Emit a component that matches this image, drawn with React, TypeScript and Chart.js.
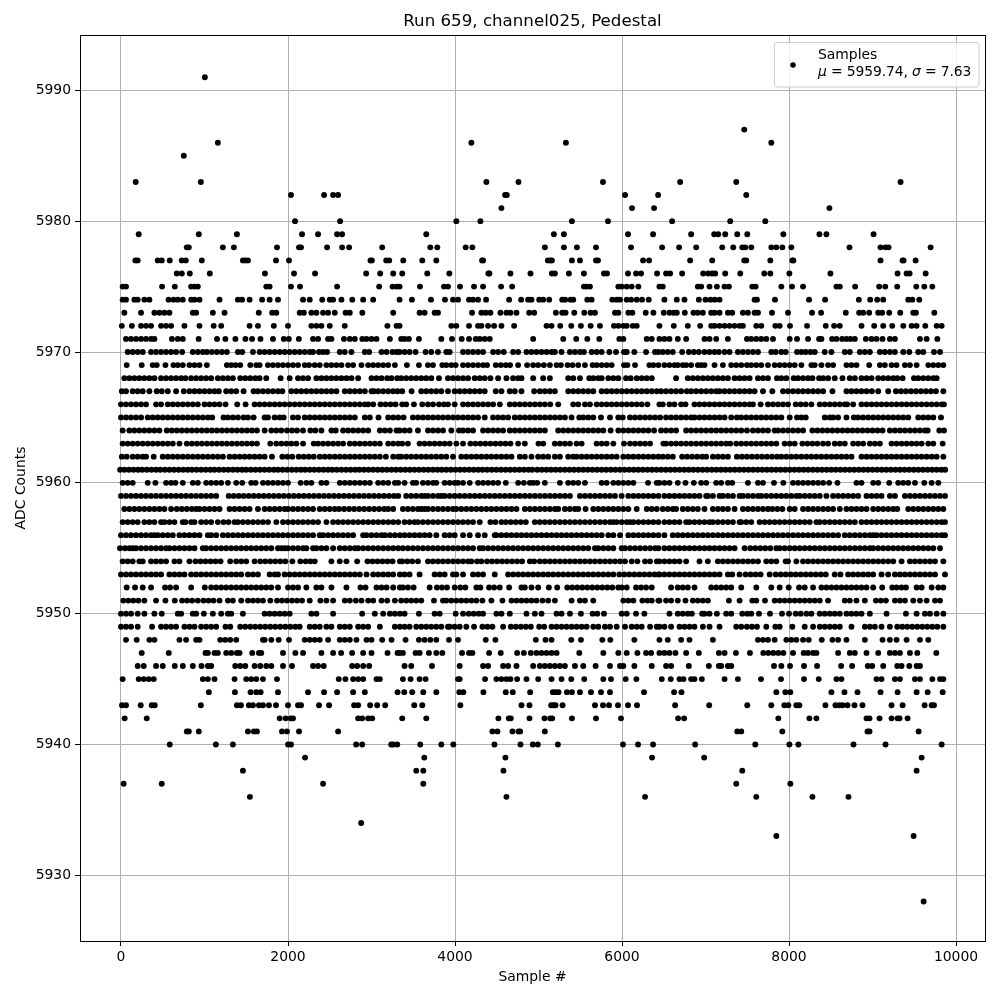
import React, { useEffect, useRef } from "react";
import { Chart, registerables } from "chart.js";

Chart.register(...registerables);

const chartTitle = "Run 659, channel025, Pedestal";
const xTitle = "Sample #";
const yTitle = "ADC Counts";
const legendName = "Samples";
const legendMean = "5959.74";
const legendSigma = "7.63";
const xTickValues = [0, 2000, 4000, 6000, 8000, 10000];
const yTickValues = [5930, 5940, 5950, 5960, 5970, 5980, 5990];

const s5991 = [1004];
const s5987 = [7464];
const s5986 = [1160, 4196, 5328, 7788];
const s5985 = [752];
const s5983 = [176, 956, 4376, 4760, 5772, 6696, 7368, 9336];
const s5982 = [2036, 2432, 2540, 2600, 4600, 4620, 6036, 6432, 7488];
const s5981 = [4556, 6120, 6384, 8484];
const s5980 = [2084, 2624, 4016, 4304, 5400, 5832, 6600, 7296, 7716];
const s5979 = [212, 932, 1388, 2168, 2360, 2588, 2648, 3656, 5184, 5304, 6072, 6372, 6828, 7104, 7152, 7236, 7380, 7500, 7932, 8364, 8448, 9012];
const s5978 = [788, 812, 1220, 1352, 1868, 2132, 2156, 2468, 2648, 2732, 3128, 3704, 3788, 4128, 4208, 5076, 5304, 5460, 5688, 6108, 6480, 6684, 6888, 7200, 7332, 7440, 7476, 7548, 7788, 7848, 7920, 8028, 8724, 9096, 9156, 9192, 9696];
const s5977 = [172, 200, 440, 488, 584, 728, 776, 968, 1460, 1490, 1520, 1856, 2012, 2988, 3004, 3176, 3212, 3380, 3608, 3776, 4324, 4336, 5112, 5140, 5160, 5400, 5496, 5688, 5712, 6252, 6324, 6816, 7080, 7464, 7488, 7776, 8040, 8052, 9096, 9360, 9372, 9516];
const s5976 = [668, 728, 824, 1064, 1724, 2072, 2324, 2936, 3104, 3260, 3368, 3668, 3932, 4400, 4412, 4664, 4904, 5160, 5196, 5364, 5544, 5784, 5820, 6072, 6168, 6228, 6420, 6528, 6576, 6720, 6972, 7032, 7080, 7116, 7236, 7416, 7704, 7776, 8004, 8496, 9300, 9408, 9444, 9636];
const s5975 = [20, 60, 492, 644, 840, 880, 920, 1740, 1780, 2036, 2144, 2588, 3092, 3252, 3300, 3336, 3580, 3868, 3916, 4060, 4228, 4336, 4552, 4684, 5544, 5576, 5616, 5956, 5996, 6056, 6116, 6196, 6448, 6488, 6908, 6948, 7048, 7136, 7228, 7280, 7560, 7600, 7908, 8036, 8168, 8568, 8608, 8792, 9080, 9152, 9296, 9524, 9620, 9716];
const s5974 = [20, 60, 160, 200, 280, 340, 570, 630, 680, 740, 840, 880, 940, 1180, 1400, 1450, 1540, 1690, 1780, 1880, 2180, 2260, 2410, 2500, 2540, 2640, 2770, 2900, 3020, 3336, 3484, 3712, 3880, 3976, 4036, 4168, 4216, 4276, 4372, 4648, 4792, 4876, 4916, 5008, 5056, 5128, 5284, 5320, 5384, 5416, 5584, 5636, 5884, 5936, 5976, 6056, 6108, 6176, 6240, 6320, 6508, 6656, 6748, 6920, 7000, 7060, 7110, 7168, 7588, 7616, 7832, 8240, 8432, 8836, 8972, 9056, 9128, 9428, 9476, 9560];
const s5973 = [40, 240, 400, 460, 520, 580, 860, 900, 1100, 1240, 1650, 1810, 1860, 2140, 2190, 2280, 2340, 2420, 2480, 2560, 2690, 2740, 2890, 3260, 3576, 3636, 3756, 3796, 4204, 4316, 4368, 4424, 4544, 4616, 4664, 4736, 4888, 4948, 5208, 5284, 5324, 5428, 5548, 5624, 5676, 5916, 5956, 6076, 6124, 6284, 6376, 6500, 6568, 6616, 6656, 6752, 6856, 6908, 6968, 7068, 7108, 7168, 7268, 7320, 7448, 7508, 7588, 7628, 7796, 7988, 8276, 8384, 8680, 8840, 8888, 8960, 9068, 9116, 9200, 9332, 9488, 9520, 9740];
const s5972 = [10, 130, 240, 300, 360, 480, 540, 600, 760, 940, 1110, 1200, 1540, 1640, 1830, 2000, 2280, 2340, 2400, 2500, 2680, 3190, 3300, 3336, 3956, 4016, 4168, 4276, 4316, 4396, 4468, 4556, 4708, 5096, 5156, 5260, 5392, 5508, 5624, 5736, 5904, 5956, 6016, 6056, 6128, 6176, 6448, 6620, 6788, 6936, 7068, 7108, 7168, 7228, 7288, 7348, 7408, 7448, 7608, 7668, 7836, 7888, 8012, 8216, 8440, 8540, 8608, 8868, 9020, 9128, 9236, 9368, 9468, 9528, 9632, 9768, 9828];
const s5971 = [60, 120, 180, 240, 300, 360, 400, 610, 680, 740, 930, 1150, 1250, 1370, 1490, 1570, 1670, 1820, 1950, 2010, 2130, 2300, 2360, 2480, 2520, 2670, 2740, 2800, 2890, 2940, 3000, 3060, 3220, 3356, 3396, 3448, 3568, 3836, 3964, 4080, 4168, 4248, 4296, 4356, 4416, 4936, 5296, 5452, 5584, 5728, 5968, 6016, 6296, 6356, 6448, 6508, 6568, 6668, 6768, 6988, 7048, 7128, 7268, 7496, 7548, 7608, 7668, 7728, 7808, 8008, 8096, 8228, 8360, 8388, 8516, 8568, 8636, 8688, 8736, 8788, 8920, 8988, 9048, 9120, 9208, 9268, 9568, 9648, 9776];
const s5970 = [80, 140, 200, 260, 360, 420, 480, 540, 600, 660, 732, 860, 920, 980, 1028, 1088, 1148, 1208, 1268, 1400, 1452, 1580, 1660, 1720, 1780, 1840, 1900, 1960, 2020, 2080, 2140, 2200, 2260, 2300, 2372, 2420, 2468, 2620, 2680, 2760, 2920, 2972, 3120, 3180, 3252, 3300, 3336, 3396, 3456, 3528, 3648, 3716, 3796, 3896, 3936, 4096, 4156, 4216, 4276, 4336, 4456, 4516, 4584, 4696, 4756, 4856, 4916, 4976, 5036, 5096, 5156, 5196, 5276, 5376, 5436, 5496, 5544, 5636, 5696, 5756, 5848, 5928, 6024, 6056, 6148, 6288, 6396, 6436, 6488, 6548, 6608, 6720, 6800, 6860, 6920, 6988, 7048, 7108, 7160, 7228, 7288, 7388, 7448, 7508, 7568, 7628, 7788, 7840, 7908, 7960, 8096, 8148, 8200, 8256, 8308, 8428, 8508, 8668, 8728, 8848, 8908, 8968, 9088, 9148, 9208, 9268, 9368, 9440, 9548, 9608, 9736, 9808];
const s5969 = [68, 248, 380, 428, 532, 628, 680, 740, 820, 880, 940, 1028, 1268, 1320, 1372, 1428, 1548, 1620, 1660, 1760, 1820, 1880, 1940, 2000, 2060, 2120, 2200, 2252, 2320, 2380, 2460, 2520, 2580, 2640, 2720, 2780, 2880, 2960, 3020, 3080, 3140, 3200, 3280, 3424, 3568, 3676, 3736, 3848, 3896, 3956, 4008, 4096, 4156, 4216, 4276, 4336, 4384, 4488, 4548, 4608, 4660, 4756, 4864, 4936, 4996, 5064, 5136, 5216, 5268, 5348, 5408, 5476, 5556, 5648, 5696, 5756, 5816, 5876, 6024, 6064, 6156, 6328, 6376, 6436, 6508, 6568, 6628, 6668, 6728, 6768, 6828, 6908, 6948, 6988, 7108, 7208, 7308, 7368, 7428, 7496, 7548, 7608, 7668, 7748, 7828, 7888, 7948, 8008, 8068, 8148, 8268, 8308, 8388, 8468, 8528, 8688, 8748, 8808, 8960, 9088, 9148, 9228, 9288, 9388, 9448, 9528, 9668, 9728, 9788, 9848];
const s5968 = [40, 100, 160, 220, 280, 340, 400, 480, 540, 600, 660, 720, 772, 840, 900, 960, 1020, 1080, 1160, 1220, 1280, 1340, 1428, 1488, 1548, 1608, 1660, 1740, 1912, 2020, 2120, 2180, 2240, 2340, 2400, 2460, 2520, 2580, 2640, 2700, 2760, 2840, 3000, 3060, 3120, 3188, 3240, 3308, 3356, 3416, 3476, 3536, 3596, 3656, 3716, 3808, 3916, 3976, 4036, 4096, 4156, 4236, 4296, 4356, 4424, 4516, 4616, 4696, 4756, 4796, 4936, 5056, 5136, 5356, 5416, 5496, 5608, 5656, 5716, 5756, 5836, 5896, 5956, 6048, 6104, 6176, 6236, 6296, 6356, 6648, 6788, 6848, 6908, 6968, 7028, 7088, 7148, 7208, 7268, 7348, 7408, 7468, 7528, 7628, 7688, 7748, 7856, 7908, 7968, 8056, 8108, 8168, 8228, 8280, 8360, 8408, 8468, 8548, 8640, 8728, 8788, 8868, 8928, 8988, 9068, 9128, 9188, 9248, 9296, 9360, 9496, 9548, 9608, 9668, 9728, 9768];
const s5967 = [10, 60, 140, 200, 260, 340, 428, 488, 560, 660, 752, 820, 880, 940, 1000, 1060, 1120, 1172, 1260, 1320, 1380, 1468, 1588, 1640, 1700, 1760, 1820, 1880, 1932, 2040, 2100, 2160, 2220, 2280, 2340, 2400, 2460, 2520, 2580, 2680, 2740, 2800, 2860, 2920, 3000, 3028, 3080, 3140, 3200, 3260, 3312, 3368, 3480, 3596, 3656, 3716, 3776, 3836, 3916, 3996, 4056, 4116, 4176, 4236, 4296, 4356, 4488, 4556, 4656, 4716, 4796, 4948, 5016, 5076, 5136, 5196, 5356, 5416, 5476, 5536, 5596, 5656, 5756, 5816, 5876, 5936, 5996, 6056, 6116, 6176, 6236, 6296, 6356, 6416, 6468, 6528, 6588, 6648, 6708, 6776, 6828, 6888, 6948, 7008, 7068, 7128, 7168, 7228, 7288, 7348, 7408, 7468, 7528, 7588, 7688, 7800, 7928, 7988, 8048, 8108, 8168, 8228, 8288, 8348, 8408, 8520, 8688, 8748, 8808, 8868, 8928, 8992, 9068, 9188, 9280, 9340, 9400, 9460, 9520, 9580, 9640, 9700, 9760, 9848];
const s5966 = [0, 60, 120, 180, 240, 300, 420, 480, 560, 620, 680, 740, 800, 860, 920, 1000, 1060, 1120, 1180, 1252, 1392, 1492, 1600, 1660, 1720, 1780, 1840, 1900, 1960, 2020, 2080, 2140, 2200, 2260, 2320, 2380, 2440, 2500, 2560, 2620, 2680, 2740, 2800, 2860, 2920, 2960, 3020, 3108, 3168, 3228, 3288, 3368, 3416, 3508, 3608, 3676, 3736, 3808, 3868, 3916, 3996, 4096, 4156, 4216, 4276, 4336, 4396, 4456, 4536, 4656, 4716, 4776, 4836, 4896, 4956, 5016, 5076, 5140, 5236, 5416, 5476, 5556, 5616, 5696, 5756, 5816, 5876, 5936, 5996, 6056, 6116, 6176, 6236, 6304, 6448, 6488, 6568, 6628, 6708, 6760, 6868, 6928, 6988, 7048, 7108, 7168, 7228, 7288, 7348, 7408, 7468, 7528, 7568, 7660, 7748, 7808, 7868, 7928, 7988, 8080, 8140, 8200, 8268, 8368, 8428, 8488, 8548, 8608, 8668, 8696, 8768, 8868, 8928, 8988, 9048, 9108, 9168, 9228, 9288, 9348, 9408, 9468, 9528, 9588, 9648, 9708, 9768, 9828, 9856];
const s5965 = [0, 60, 120, 180, 240, 320, 380, 440, 500, 560, 620, 680, 740, 800, 860, 920, 980, 1040, 1092, 1228, 1280, 1340, 1400, 1468, 1520, 1588, 1720, 1760, 1840, 1900, 1948, 2060, 2120, 2200, 2260, 2320, 2380, 2440, 2500, 2560, 2620, 2680, 2740, 2800, 2920, 2980, 3084, 3200, 3260, 3320, 3384, 3496, 3556, 3616, 3676, 3736, 3796, 3856, 3916, 3976, 4036, 4096, 4156, 4216, 4276, 4356, 4456, 4516, 4576, 4636, 4716, 4776, 4836, 4896, 4956, 5016, 5076, 5136, 5196, 5256, 5316, 5396, 5488, 5536, 5596, 5656, 5748, 5856, 5956, 6008, 6096, 6156, 6216, 6276, 6336, 6396, 6456, 6528, 6588, 6648, 6708, 6768, 6828, 6868, 6928, 6988, 7048, 7108, 7168, 7228, 7308, 7376, 7428, 7488, 7548, 7608, 7668, 7728, 7788, 7848, 7908, 8008, 8096, 8148, 8200, 8428, 8488, 8528, 8588, 8688, 8776, 8828, 8888, 8948, 9008, 9068, 9128, 9188, 9248, 9308, 9368, 9428, 9548, 9608, 9668, 9728, 9820];
const s5964 = [20, 100, 160, 220, 280, 340, 400, 460, 548, 608, 668, 728, 788, 848, 908, 968, 1028, 1088, 1148, 1208, 1268, 1328, 1388, 1448, 1508, 1568, 1628, 1720, 1800, 1860, 1920, 1988, 2048, 2108, 2180, 2268, 2328, 2400, 2520, 2572, 2660, 2720, 2780, 2840, 2900, 2960, 3100, 3160, 3220, 3300, 3336, 3396, 3456, 3556, 3676, 3736, 3796, 3856, 3956, 4048, 4096, 4156, 4216, 4336, 4396, 4456, 4516, 4576, 4656, 4716, 4776, 4836, 4896, 4956, 5016, 5076, 5236, 5296, 5356, 5416, 5476, 5536, 5596, 5656, 5716, 5776, 5864, 5956, 6016, 6076, 6136, 6196, 6256, 6316, 6384, 6468, 6528, 6588, 6648, 6768, 6828, 6888, 6948, 7008, 7068, 7128, 7188, 7248, 7308, 7368, 7428, 7496, 7568, 7628, 7688, 7748, 7828, 7868, 7928, 7988, 8048, 8108, 8168, 8280, 8340, 8400, 8460, 8520, 8580, 8640, 8700, 8760, 8820, 8880, 8940, 9000, 9060, 9120, 9208, 9268, 9328, 9388, 9448, 9508, 9568, 9628, 9660, 9800, 9856];
const s5963 = [20, 80, 140, 200, 260, 320, 380, 440, 500, 560, 620, 700, 788, 848, 908, 968, 1028, 1088, 1148, 1208, 1268, 1328, 1388, 1448, 1508, 1568, 1628, 1788, 1860, 1920, 1980, 2040, 2100, 2180, 2308, 2360, 2420, 2480, 2540, 2600, 2660, 2740, 2800, 2860, 2920, 2980, 3040, 3100, 3200, 3260, 3320, 3368, 3436, 3576, 3636, 3696, 3756, 3816, 3876, 3936, 4016, 4096, 4184, 4244, 4304, 4364, 4424, 4484, 4544, 4604, 4664, 4756, 4836, 5000, 5056, 5196, 5256, 5316, 5376, 5456, 5516, 5696, 5756, 5816, 5896, 6024, 6096, 6156, 6216, 6276, 6336, 6496, 6528, 6588, 6648, 6708, 6768, 6828, 6888, 6948, 7008, 7068, 7128, 7188, 7248, 7296, 7368, 7428, 7488, 7548, 7608, 7668, 7728, 7788, 7848, 7948, 8008, 8068, 8160, 8220, 8280, 8340, 8408, 8468, 8548, 8608, 8668, 8768, 8828, 8888, 8968, 9028, 9088, 9228, 9288, 9348, 9408, 9468, 9528, 9588, 9668, 9728, 9840];
const s5962 = [10, 68, 140, 200, 260, 300, 392, 500, 560, 620, 680, 740, 800, 860, 920, 980, 1040, 1100, 1160, 1220, 1300, 1360, 1420, 1480, 1540, 1600, 1660, 1720, 1808, 1932, 1992, 2052, 2128, 2188, 2248, 2308, 2380, 2440, 2500, 2560, 2620, 2680, 2740, 2800, 2860, 2920, 2980, 3040, 3100, 3172, 3260, 3320, 3356, 3416, 3476, 3536, 3596, 3656, 3716, 3776, 3836, 3896, 3976, 4076, 4136, 4196, 4256, 4316, 4376, 4436, 4496, 4556, 4616, 4676, 4776, 4836, 4916, 4996, 5056, 5116, 5196, 5256, 5356, 5416, 5456, 5516, 5576, 5636, 5696, 5756, 5816, 5876, 5936, 6016, 6076, 6136, 6196, 6256, 6316, 6376, 6436, 6488, 6548, 6608, 6720, 6780, 6840, 6900, 6960, 7008, 7088, 7148, 7208, 7268, 7376, 7436, 7496, 7556, 7616, 7676, 7736, 7796, 7856, 7908, 7968, 8028, 8088, 8148, 8208, 8268, 8328, 8388, 8448, 8508, 8568, 8628, 8688, 8748, 8868, 8928, 8988, 9048, 9108, 9168, 9228, 9288, 9348, 9408, 9468, 9528, 9588, 9648, 9708, 9768, 9848];
const s5961 = [-10, 40, 95, 150, 205, 255, 310, 365, 420, 470, 525, 580, 635, 690, 745, 800, 850, 905, 960, 1015, 1070, 1120, 1175, 1230, 1285, 1340, 1395, 1450, 1500, 1555, 1610, 1665, 1720, 1775, 1830, 1880, 1935, 1990, 2045, 2100, 2155, 2205, 2260, 2315, 2370, 2425, 2480, 2530, 2585, 2640, 2695, 2750, 2805, 2855, 2910, 2965, 3020, 3075, 3130, 3185, 3240, 3295, 3350, 3405, 3460, 3515, 3570, 3625, 3680, 3735, 3790, 3840, 3895, 3950, 4005, 4060, 4115, 4170, 4225, 4280, 4330, 4385, 4440, 4495, 4550, 4605, 4660, 4715, 4770, 4825, 4880, 4925, 4985, 5040, 5095, 5150, 5205, 5260, 5315, 5370, 5425, 5480, 5535, 5590, 5645, 5700, 5755, 5810, 5865, 5920, 5975, 6030, 6085, 6140, 6195, 6250, 6305, 6360, 6415, 6470, 6525, 6580, 6635, 6690, 6745, 6800, 6855, 6910, 6965, 7020, 7075, 7130, 7185, 7240, 7295, 7350, 7405, 7460, 7515, 7570, 7625, 7680, 7735, 7790, 7845, 7900, 7955, 8010, 8065, 8120, 8175, 8230, 8285, 8340, 8395, 8450, 8505, 8560, 8615, 8670, 8725, 8780, 8835, 8890, 8945, 9000, 9055, 9110, 9165, 9220, 9275, 9330, 9385, 9440, 9495, 9550, 9605, 9660, 9715, 9770, 9825, 9870];
const s5960 = [20, 80, 140, 320, 412, 540, 600, 652, 740, 860, 920, 1020, 1080, 1140, 1200, 1280, 1380, 1452, 1560, 1612, 1700, 1760, 1820, 1880, 1940, 2000, 2152, 2220, 2280, 2400, 2460, 2620, 2680, 2740, 2800, 2860, 2920, 2980, 3080, 3140, 3200, 3280, 3320, 3396, 3496, 3536, 3616, 3676, 3736, 3776, 3876, 3936, 3996, 4036, 4096, 4176, 4276, 4336, 4396, 4456, 4516, 4608, 4756, 4824, 4896, 4936, 4984, 5076, 5256, 5356, 5416, 5476, 5556, 5756, 5816, 5896, 5956, 6016, 6076, 6136, 6312, 6416, 6448, 6508, 6568, 6668, 6760, 6860, 6948, 7008, 7128, 7188, 7268, 7320, 7508, 7628, 7688, 7820, 7932, 8048, 8108, 8168, 8228, 8288, 8348, 8408, 8480, 8580, 8808, 8868, 9008, 9068, 9200, 9308, 9368, 9428, 9508, 9620, 9708, 9788];
const s5959 = [0, 60, 120, 180, 240, 300, 360, 420, 480, 540, 600, 660, 720, 780, 840, 900, 960, 1020, 1080, 1140, 1290, 1350, 1410, 1470, 1530, 1590, 1650, 1710, 1770, 1830, 1890, 1950, 2010, 2070, 2130, 2190, 2250, 2310, 2370, 2430, 2490, 2550, 2610, 2670, 2730, 2790, 2850, 2910, 2970, 3030, 3090, 3150, 3210, 3270, 3320, 3416, 3476, 3536, 3596, 3636, 3676, 3736, 3796, 3836, 3876, 3936, 3996, 4056, 4116, 4176, 4236, 4296, 4356, 4416, 4476, 4536, 4596, 4656, 4716, 4776, 4836, 4896, 4956, 5016, 5076, 5136, 5196, 5256, 5316, 5376, 5496, 5556, 5616, 5676, 5736, 5796, 5856, 5916, 5996, 6076, 6136, 6196, 6256, 6316, 6376, 6436, 6508, 6568, 6628, 6688, 6748, 6808, 6868, 6928, 7008, 7028, 7088, 7168, 7208, 7268, 7328, 7408, 7448, 7508, 7568, 7628, 7668, 7728, 7788, 7848, 7908, 7968, 8028, 8088, 8128, 8188, 8248, 8308, 8368, 8448, 8528, 8588, 8648, 8708, 8768, 8828, 8928, 8988, 9048, 9108, 9208, 9268, 9388, 9448, 9508, 9568, 9628, 9688, 9748, 9808, 9868];
const s5958 = [40, 100, 160, 220, 280, 340, 400, 460, 520, 600, 668, 728, 788, 848, 900, 940, 1000, 1060, 1120, 1180, 1300, 1360, 1420, 1480, 1540, 1640, 1720, 1780, 1840, 1900, 1960, 2000, 2060, 2120, 2180, 2240, 2300, 2380, 2440, 2500, 2560, 2612, 2672, 2732, 2792, 2852, 2912, 2972, 3032, 3092, 3152, 3200, 3260, 3376, 3436, 3496, 3556, 3596, 3636, 3676, 3736, 3796, 3856, 3916, 3976, 4016, 4076, 4136, 4196, 4256, 4316, 4376, 4436, 4496, 4556, 4616, 4676, 4736, 4836, 4896, 4956, 5016, 5076, 5136, 5196, 5236, 5316, 5376, 5436, 5476, 5564, 5656, 5716, 5776, 5836, 5896, 5956, 6016, 6076, 6176, 6296, 6356, 6416, 6488, 6548, 6608, 6648, 6728, 6788, 6848, 6908, 6988, 7088, 7148, 7208, 7268, 7348, 7448, 7508, 7568, 7628, 7688, 7748, 7800, 7860, 7920, 8008, 8068, 8168, 8228, 8288, 8348, 8408, 8468, 8528, 8608, 8688, 8748, 8808, 8868, 8928, 9008, 9068, 9128, 9188, 9248, 9296, 9428, 9488, 9548, 9608, 9668, 9728, 9788, 9848];
const s5957 = [20, 80, 140, 200, 280, 340, 400, 480, 520, 580, 640, 740, 772, 840, 880, 960, 1020, 1080, 1160, 1228, 1288, 1360, 1400, 1460, 1520, 1580, 1640, 1700, 1760, 1860, 1940, 2000, 2060, 2120, 2180, 2240, 2300, 2360, 2460, 2540, 2600, 2660, 2720, 2780, 2840, 2900, 2960, 3020, 3080, 3140, 3200, 3260, 3320, 3396, 3456, 3516, 3556, 3616, 3676, 3736, 3796, 3856, 3916, 3976, 4036, 4096, 4156, 4216, 4296, 4424, 4484, 4556, 4608, 4668, 4728, 4788, 4848, 4956, 5016, 5076, 5136, 5196, 5256, 5316, 5376, 5436, 5496, 5556, 5616, 5676, 5736, 5796, 5856, 5896, 5936, 5996, 6056, 6096, 6136, 6196, 6256, 6316, 6376, 6436, 6508, 6568, 6628, 6688, 6768, 6808, 6868, 6928, 6988, 7048, 7088, 7148, 7208, 7268, 7328, 7408, 7428, 7488, 7548, 7648, 7708, 7768, 7828, 7888, 7948, 8008, 8068, 8128, 8188, 8248, 8328, 8368, 8428, 8488, 8548, 8608, 8668, 8728, 8788, 8868, 8928, 8988, 9048, 9108, 9168, 9228, 9288, 9348, 9408, 9468, 9528, 9588, 9648, 9708, 9768, 9828, 9868];
const s5956 = [0, 60, 120, 180, 240, 300, 360, 400, 440, 500, 560, 620, 700, 760, 820, 880, 940, 1040, 1080, 1140, 1220, 1280, 1340, 1400, 1460, 1520, 1580, 1640, 1700, 1760, 1820, 1880, 1940, 2000, 2060, 2120, 2180, 2240, 2300, 2380, 2420, 2480, 2540, 2600, 2660, 2720, 2780, 2900, 2940, 3000, 3060, 3120, 3160, 3220, 3280, 3340, 3396, 3456, 3516, 3576, 3636, 3696, 3776, 3876, 3936, 3996, 4096, 4176, 4276, 4356, 4476, 4496, 4556, 4616, 4676, 4736, 4796, 4856, 4916, 4976, 5036, 5096, 5156, 5216, 5276, 5336, 5396, 5456, 5516, 5576, 5636, 5696, 5756, 5836, 5896, 5976, 6076, 6136, 6196, 6256, 6316, 6376, 6436, 6508, 6608, 6668, 6728, 6788, 6848, 6908, 6968, 7028, 7088, 7148, 7208, 7268, 7328, 7388, 7448, 7508, 7568, 7628, 7688, 7748, 7808, 7868, 7928, 7988, 8048, 8108, 8168, 8228, 8288, 8348, 8408, 8468, 8528, 8588, 8668, 8728, 8788, 8848, 8908, 8968, 9008, 9048, 9108, 9168, 9228, 9288, 9348, 9408, 9468, 9528, 9588, 9648, 9708, 9768, 9828, 9868];
const s5955 = [-12, 48, 100, 140, 180, 240, 300, 360, 420, 480, 540, 580, 640, 700, 760, 820, 880, 980, 1020, 1080, 1140, 1200, 1260, 1320, 1380, 1440, 1500, 1560, 1620, 1680, 1740, 1800, 1880, 1920, 1960, 2000, 2060, 2120, 2180, 2220, 2300, 2340, 2400, 2460, 2540, 2620, 2680, 2740, 2800, 2840, 2900, 2960, 3020, 3080, 3140, 3200, 3260, 3320, 3376, 3436, 3496, 3556, 3616, 3676, 3736, 3796, 3856, 3916, 3976, 4036, 4096, 4156, 4216, 4296, 4336, 4396, 4456, 4516, 4576, 4636, 4696, 4756, 4816, 4876, 4936, 4996, 5056, 5116, 5176, 5236, 5296, 5356, 5416, 5476, 5536, 5596, 5676, 5716, 5776, 5836, 5896, 5996, 6036, 6096, 6156, 6216, 6276, 6336, 6396, 6436, 6508, 6568, 6628, 6688, 6748, 6808, 6868, 6928, 6988, 7048, 7108, 7168, 7228, 7288, 7348, 7468, 7536, 7596, 7656, 7716, 7776, 7848, 7888, 7948, 8008, 8068, 8128, 8188, 8248, 8308, 8368, 8428, 8488, 8548, 8608, 8668, 8728, 8788, 8848, 8908, 8968, 9008, 9068, 9128, 9188, 9248, 9308, 9368, 9428, 9488, 9548, 9608, 9668, 9728, 9808];
const s5954 = [20, 80, 140, 220, 260, 360, 420, 480, 540, 640, 700, 820, 892, 952, 1012, 1072, 1132, 1192, 1308, 1380, 1440, 1500, 1600, 1668, 1728, 1788, 1848, 1908, 1968, 2052, 2148, 2212, 2268, 2320, 2520, 2620, 2700, 2828, 2952, 3012, 3072, 3132, 3192, 3252, 3340, 3368, 3428, 3488, 3556, 3676, 3736, 3796, 3856, 3916, 3976, 4036, 4096, 4156, 4196, 4264, 4316, 4384, 4444, 4504, 4564, 4624, 4684, 4744, 4804, 4896, 4948, 5016, 5076, 5136, 5196, 5256, 5316, 5376, 5436, 5496, 5556, 5616, 5676, 5736, 5796, 5856, 5916, 5976, 6036, 6116, 6184, 6276, 6336, 6416, 6448, 6508, 6568, 6628, 6688, 6768, 6928, 7028, 7148, 7208, 7268, 7328, 7388, 7448, 7508, 7568, 7628, 7728, 7788, 7848, 7960, 7988, 8088, 8168, 8228, 8288, 8348, 8408, 8468, 8528, 8588, 8648, 8708, 8768, 8828, 8888, 8948, 9008, 9068, 9128, 9188, 9248, 9348, 9448, 9508, 9568, 9628, 9688, 9748, 9848];
const s5953 = [0, 60, 120, 180, 240, 300, 360, 420, 480, 580, 640, 700, 760, 840, 900, 960, 1020, 1080, 1140, 1200, 1260, 1320, 1380, 1440, 1520, 1580, 1640, 1780, 1840, 1880, 1960, 2020, 2080, 2140, 2200, 2260, 2320, 2380, 2440, 2500, 2560, 2620, 2680, 2740, 2800, 2860, 2940, 3020, 3080, 3140, 3200, 3260, 3340, 3396, 3456, 3576, 3756, 3816, 3876, 3976, 4016, 4096, 4216, 4276, 4336, 4476, 4636, 4696, 4756, 4816, 4876, 4936, 4996, 5056, 5116, 5176, 5236, 5296, 5356, 5416, 5476, 5536, 5596, 5656, 5716, 5776, 5836, 5896, 5968, 6028, 6088, 6148, 6208, 6268, 6328, 6388, 6436, 6448, 6508, 6568, 6628, 6688, 6748, 6808, 6868, 6928, 6988, 7048, 7108, 7168, 7268, 7320, 7408, 7480, 7540, 7600, 7660, 7768, 7840, 7900, 7960, 8020, 8080, 8140, 8200, 8260, 8320, 8380, 8440, 8548, 8616, 8708, 8768, 8828, 8888, 8948, 9008, 9108, 9188, 9268, 9328, 9388, 9448, 9508, 9568, 9628, 9688, 9748, 9868];
const s5952 = [68, 168, 260, 360, 528, 588, 660, 840, 1004, 1080, 1140, 1200, 1260, 1320, 1380, 1440, 1500, 1560, 1620, 1680, 1740, 1800, 1880, 2000, 2060, 2120, 2220, 2340, 2400, 2520, 2700, 2868, 2928, 3060, 3120, 3180, 3260, 3340, 3376, 3436, 3504, 3696, 3784, 3844, 3904, 3996, 4064, 4124, 4256, 4304, 4408, 4468, 4536, 4648, 4796, 4836, 4916, 4996, 5124, 5224, 5344, 5404, 5464, 5524, 5584, 5644, 5704, 5764, 5824, 5884, 5956, 5996, 6056, 6168, 6228, 6288, 6356, 6588, 6668, 6728, 6788, 6868, 7068, 7128, 7188, 7248, 7308, 7428, 7608, 7788, 7888, 7996, 8120, 8188, 8288, 8388, 8448, 8508, 8568, 8628, 8688, 8748, 8808, 8868, 8928, 9008, 9116, 9236, 9288, 9348, 9400, 9528, 9588, 9708, 9788, 9848];
const s5951 = [28, 88, 148, 208, 280, 420, 532, 644, 732, 792, 852, 920, 988, 1048, 1108, 1180, 1280, 1340, 1440, 1520, 1580, 1640, 1700, 1788, 1868, 1928, 1988, 2048, 2108, 2168, 2260, 2388, 2460, 2540, 2680, 2740, 2812, 2880, 2960, 3020, 3120, 3188, 3280, 3356, 3416, 3476, 3536, 3596, 3748, 3856, 3896, 3956, 4016, 4076, 4136, 4196, 4256, 4328, 4436, 4568, 4676, 4736, 4796, 4856, 4916, 4976, 5048, 5116, 5196, 5396, 5496, 5556, 5656, 6016, 6076, 6136, 6244, 6304, 6356, 6436, 6448, 6528, 6588, 6668, 6760, 6848, 6908, 6968, 7028, 7280, 7408, 7560, 7608, 7712, 7828, 7888, 7948, 8008, 8068, 8128, 8188, 8248, 8308, 8368, 8468, 8668, 8728, 8808, 8908, 9040, 9100, 9160, 9268, 9328, 9388, 9488, 9568, 9648, 9748, 9808];
const s5950 = [0, 60, 120, 200, 280, 400, 488, 680, 720, 860, 900, 992, 1100, 1200, 1280, 1320, 1460, 1720, 1780, 1840, 1900, 1960, 2020, 2280, 2340, 2540, 2888, 3040, 3140, 3220, 3280, 3340, 3396, 3568, 3756, 3816, 4008, 4096, 4164, 4224, 4284, 4336, 4496, 4556, 4656, 4856, 4956, 5036, 5216, 5276, 5376, 5508, 5648, 5704, 5784, 5996, 6056, 6168, 6268, 6568, 6668, 6728, 6788, 6836, 6960, 6988, 7048, 7136, 7248, 7308, 7440, 7500, 7548, 7640, 7772, 7916, 8000, 8080, 8140, 8208, 8268, 8368, 8428, 8488, 8548, 8608, 8688, 8748, 8808, 8868, 8968, 9168, 9400, 9528, 9628, 9688, 9768, 9848];
const s5949 = [0, 60, 120, 200, 372, 480, 540, 600, 660, 760, 820, 880, 960, 1020, 1080, 1140, 1252, 1308, 1428, 1488, 1548, 1608, 1668, 1728, 1788, 1848, 1908, 1968, 2028, 2088, 2140, 2260, 2320, 2380, 2460, 2520, 2620, 2680, 2740, 2840, 2900, 2960, 3100, 3280, 3340, 3396, 3456, 3536, 3596, 3656, 3716, 3776, 3836, 3916, 3936, 3996, 4056, 4136, 4228, 4328, 4388, 4448, 4576, 4668, 4728, 4788, 4848, 4908, 5008, 5068, 5156, 5216, 5276, 5336, 5396, 5456, 5516, 5576, 5656, 5716, 5796, 5856, 5936, 6036, 6116, 6176, 6236, 6336, 6416, 6448, 6508, 6588, 6688, 6748, 6808, 6868, 6968, 7048, 7168, 7368, 7428, 7496, 7556, 7616, 7728, 7836, 7888, 8040, 8188, 8288, 8368, 8428, 8488, 8548, 8608, 8748, 8908, 8968, 9028, 9108, 9208, 9296, 9356, 9416, 9476, 9536, 9596, 9656, 9716, 9776, 9848];
const s5948 = [60, 188, 340, 400, 700, 780, 900, 940, 1188, 1248, 1308, 1380, 1700, 1720, 1800, 1888, 2012, 2200, 2260, 2320, 2380, 2480, 2620, 2680, 2740, 2820, 2940, 3000, 3128, 3240, 3408, 3568, 3636, 3704, 3776, 3928, 4036, 4368, 4484, 4968, 5084, 5156, 5392, 5508, 5764, 5860, 6148, 6448, 6548, 6708, 6808, 7088, 7628, 7688, 7748, 7828, 7968, 8028, 8088, 8168, 8236, 8392, 8520, 8588, 8688, 8908, 9120, 9208, 9288, 9408, 9568, 9668];
const s5947 = [248, 572, 1012, 1040, 1120, 1160, 1260, 1320, 1388, 1420, 1572, 1652, 1680, 1940, 2088, 2180, 2400, 2540, 2636, 2768, 2900, 3000, 3192, 3312, 3336, 3376, 3528, 3576, 3688, 3776, 3848, 4084, 4168, 4208, 4408, 4548, 4744, 4824, 4908, 4976, 5036, 5096, 5156, 5216, 5488, 5776, 5956, 6056, 6184, 6288, 6348, 6448, 6508, 6568, 6640, 6768, 6920, 7160, 7228, 7364, 7532, 7692, 7752, 7812, 7872, 7932, 8048, 8176, 8228, 8288, 8328, 8588, 8728, 8788, 8928, 9068, 9208, 9268, 9328, 9448, 9536, 9764];
const s5946 = [200, 272, 420, 500, 644, 740, 860, 964, 1040, 1080, 1368, 1428, 1488, 1600, 1668, 1740, 1800, 1940, 2048, 2300, 2360, 2428, 2768, 2828, 2900, 2972, 3396, 3476, 3724, 4056, 4336, 4396, 4576, 4636, 4736, 4936, 5016, 5076, 5136, 5196, 5256, 5316, 5436, 5536, 5684, 5856, 5976, 6016, 6148, 6356, 6528, 6588, 6800, 7040, 7160, 7188, 7268, 7308, 7820, 7908, 8012, 8180, 8336, 8624, 8756, 8944, 8996, 9128, 9296, 9348, 9440, 9528, 9568];
const s5945 = [20, 212, 272, 332, 392, 980, 1040, 1120, 1360, 1500, 1560, 1620, 1700, 1868, 2608, 2688, 2780, 2840, 2900, 3060, 3100, 3376, 3468, 3576, 3648, 4036, 4056, 4360, 4496, 4556, 4616, 4664, 4744, 4856, 4996, 5156, 5276, 5392, 5548, 5776, 5868, 6044, 6172, 6476, 6584, 6688, 6736, 6828, 6868, 6956, 7228, 7388, 7664, 7904, 8180, 8356, 8568, 8628, 9048, 9108, 9268, 9328, 9508, 9568, 9716, 9808, 9848];
const s5944 = [1052, 1364, 1552, 1620, 1672, 1880, 2240, 2432, 2588, 2780, 2920, 3312, 3392, 3488, 3620, 3776, 4052, 4100, 4340, 4608, 4692, 4900, 5172, 5200, 5240, 5340, 5400, 5496, 5628, 5748, 5856, 6264, 6624, 6712, 7848, 7956, 8016, 8508, 8664, 8820, 9096, 9300, 9528, 9660, 9840];
const s5943 = [12, 60, 236, 368, 404, 956, 1388, 1436, 1532, 1580, 1652, 1700, 1772, 1856, 2000, 2120, 2156, 2372, 2492, 2792, 2840, 2984, 3068, 3164, 3512, 3608, 4064, 4796, 4892, 5152, 5180, 5204, 5288, 5676, 5772, 5844, 5952, 6072, 6180, 6636, 7044, 7500, 7788, 7944, 7992, 8088, 8124, 8436, 8556, 8604, 8640, 8700, 8784, 8880, 9228, 9360, 9624, 9708, 9736];
const s5942 = [44, 308, 1900, 1972, 2032, 2060, 2840, 2888, 2960, 3008, 3368, 3656, 4520, 4644, 4668, 4892, 5072, 5140, 5164, 5400, 5688, 5988, 6672, 6744, 7872, 8244, 8328, 8928, 8964, 9084, 9228, 9300, 9324, 9420];
const s5941 = [788, 812, 932, 1520, 1592, 1628, 1928, 1988, 2132, 2600, 4448, 4508, 4688, 4760, 4780, 5076, 7380, 7428, 7920, 8940, 8964, 9552];
const s5940 = [584, 1136, 1340, 2000, 2036, 2816, 2888, 3236, 3260, 3308, 3584, 3836, 3980, 4472, 4784, 4932, 4992, 5232, 6012, 6192, 6372, 6876, 7596, 8004, 8112, 8772, 9156, 9828];
const s5939 = [2204, 3632, 4604, 6360, 6984, 9588];
const s5938 = [1460, 3536, 3620, 4580, 7440, 9528];
const s5937 = [32, 488, 2420, 3620, 7368, 8016];
const s5936 = [1544, 4616, 6276, 7608, 8280, 8712];
const s5934 = [2876];
const s5933 = [7848, 9492];
const s5928 = [9612];

const rows = [
  [5991, s5991], [5987, s5987], [5986, s5986], [5985, s5985], [5983, s5983], [5982, s5982], [5981, s5981], [5980, s5980],
  [5979, s5979], [5978, s5978], [5977, s5977], [5976, s5976], [5975, s5975], [5974, s5974], [5973, s5973], [5972, s5972],
  [5971, s5971], [5970, s5970], [5969, s5969], [5968, s5968], [5967, s5967], [5966, s5966], [5965, s5965], [5964, s5964],
  [5963, s5963], [5962, s5962], [5961, s5961], [5960, s5960], [5959, s5959], [5958, s5958], [5957, s5957], [5956, s5956],
  [5955, s5955], [5954, s5954], [5953, s5953], [5952, s5952], [5951, s5951], [5950, s5950], [5949, s5949], [5948, s5948],
  [5947, s5947], [5946, s5946], [5945, s5945], [5944, s5944], [5943, s5943], [5942, s5942], [5941, s5941], [5940, s5940],
  [5939, s5939], [5938, s5938], [5937, s5937], [5936, s5936], [5934, s5934], [5933, s5933], [5928, s5928],
] as [number, number[]][];

const points = rows.flatMap(([y, xs]) => xs.map((x) => ({ x, y })));

export default function App() {
  const ref = useRef<HTMLCanvasElement>(null);
  useEffect(() => {
    document.body.style.margin = "0";
    const family = '"DejaVu Sans"';
    const frame = {
      id: "frame",
      afterDraw(c: any) {
        const { ctx, chartArea: a } = c;
        ctx.save();
        ctx.strokeStyle = "#000";
        ctx.lineWidth = 1;
        ctx.strokeRect(a.left + 0.5, a.top + 0.5, a.width, a.height);
        const bx = 774.5, by = 42.5, bw = 204.5, bh = 44.5;
        ctx.beginPath();
        ctx.roundRect(bx, by, bw, bh, 3);
        ctx.fillStyle = "rgba(255,255,255,0.8)";
        ctx.fill();
        ctx.strokeStyle = "#ccc";
        ctx.stroke();
        ctx.fillStyle = "#000";
        ctx.beginPath();
        ctx.arc(793, 65, 2.75, 0, Math.PI * 2);
        ctx.fill();
        ctx.textBaseline = "alphabetic";
        ctx.textAlign = "left";
        const plain = `13.9px ${family}`;
        const ital = `italic 13.9px ${family}`;
        ctx.font = plain;
        ctx.fillText(legendName, 818, 59);
        const parts: [string, string][] = [
          ["\u03bc", ital], [` = ${legendMean}, `, plain], ["\u03c3", ital], [` = ${legendSigma}`, plain],
        ];
        (ctx as any).letterSpacing = "-0.12px";
        let x = 818;
        for (const [t, f] of parts) {
          ctx.font = f;
          ctx.fillText(t, x, 76);
          x += ctx.measureText(t).width;
        }
        ctx.restore();
      },
    };
    const chart = new Chart(ref.current!, {
      type: "scatter",
      data: { datasets: [{ label: legendName, data: points, backgroundColor: "#000", borderWidth: 0, pointRadius: 2.95, pointHoverRadius: 2.95 }] },
      plugins: [frame],
      options: {
        animation: false,
        responsive: false,
        layout: { padding: { left: 0, right: 15, top: 0, bottom: 0 } },
        plugins: {
          legend: { display: false },
          tooltip: { enabled: false },
          title: {
            display: true, text: chartTitle, fullSize: false, color: "#000",
            font: { family, size: 16.67, weight: "normal" }, padding: { top: 12, bottom: 3 },
          },
        },
        scales: {
          x: {
            type: "linear", min: -491, max: 10347,
            afterFit: (s: any) => { s.height = 59; },
            afterBuildTicks: (s: any) => { s.ticks = xTickValues.map((value) => ({ value })); },
            ticks: { maxRotation: 0, autoSkip: false, callback: (v: any) => String(v), color: "#000", padding: 3, font: { family, size: 13.9 } },
            grid: { color: "#b0b0b0", lineWidth: 1, tickColor: "#000", tickLength: 5 },
            border: { color: "#000", width: 1 },
            title: { display: true, text: xTitle, color: "#000", font: { family, size: 13.9 }, padding: { top: 0, bottom: 14 } },
          },
          y: {
            type: "linear", min: 5924.98, max: 5994.23,
            afterFit: (s: any) => { s.width = 80; },
            afterBuildTicks: (s: any) => { s.ticks = yTickValues.map((value) => ({ value })); },
            ticks: { autoSkip: false, callback: (v: any) => String(v), color: "#000", padding: 4, font: { family, size: 13.9 } },
            grid: { color: "#b0b0b0", lineWidth: 1, tickColor: "#000", tickLength: 5 },
            border: { color: "#000", width: 1 },
            title: { display: true, text: yTitle, color: "#000", font: { family, size: 13.9 }, padding: { top: 13, bottom: 0 } },
          },
        },
      },
    } as any);
    return () => chart.destroy();
  }, []);
  return <canvas ref={ref} width={1000} height={1000} style={{ display: "block" }} />;
}
